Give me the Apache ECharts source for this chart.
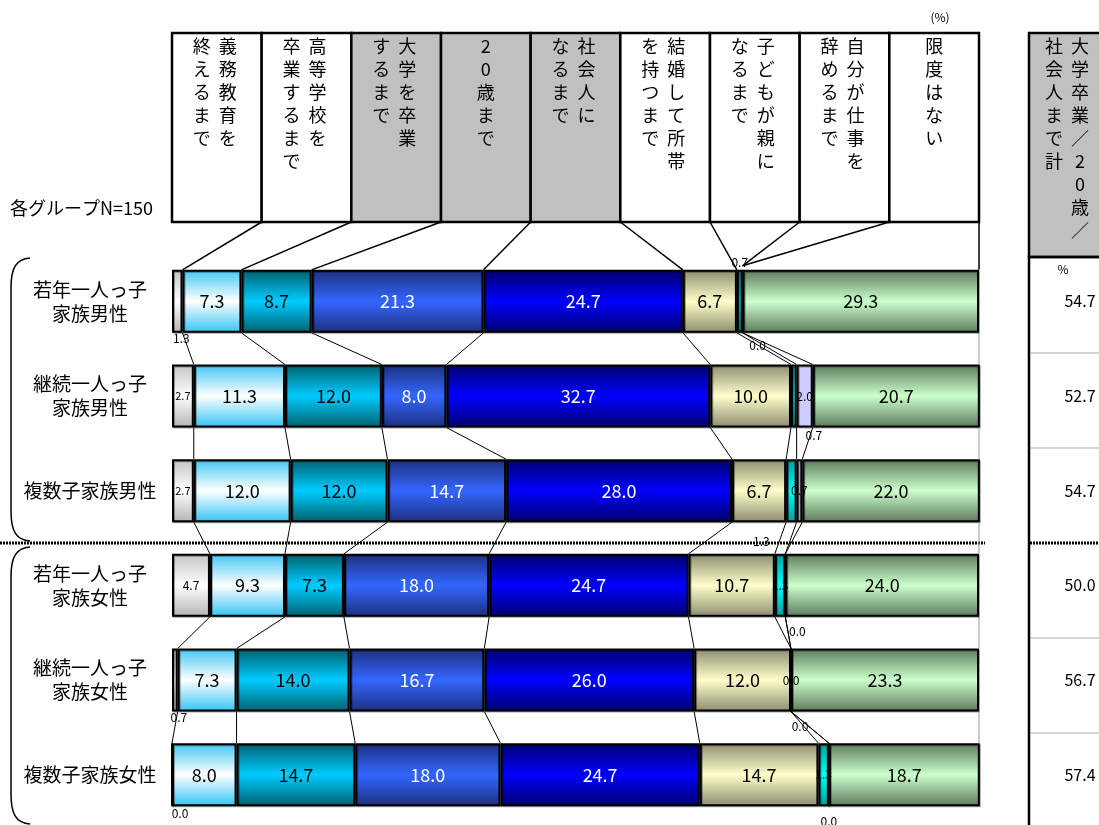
<!DOCTYPE html>
<html><head><meta charset="utf-8">
<script src="https://cdn.jsdelivr.net/npm/echarts@6/dist/echarts.min.js"></script>
<style>html,body{margin:0;padding:0;background:#fff}#c{width:1099px;height:825px}</style>
</head><body><div id="c"></div>
<script>
// ---- data ----
const groups = ['若年一人っ子\n家族男性','継続一人っ子\n家族男性','複数子家族男性','若年一人っ子\n家族女性','継続一人っ子\n家族女性','複数子家族女性'];
const categories = ['義務教育を終えるまで','高等学校を卒業するまで','大学を卒業するまで','20歳まで','社会人になるまで','結婚して所帯を持つまで','子どもが親になるまで','自分が仕事を辞めるまで','限度はない'];
// header text columns (right column first, as written vertically)
const headerCols = [['義務教育を','終えるまで'],['高等学校を','卒業するまで'],['大学を卒業','するまで'],['20歳まで'],['社会人に','なるまで'],['結婚して所帯','を持つまで'],['子どもが親に','なるまで'],['自分が仕事を','辞めるまで'],['限度はない']];
const subtotalHeader = ['大学卒業／20歳／','社会人まで計'];
const s1_gimu     = [1.3, 2.7, 2.7, 4.7, 0.7, 0.0];
const s2_koko     = [7.3, 11.3, 12.0, 9.3, 7.3, 8.0];
const s3_daigaku  = [8.7, 12.0, 12.0, 7.3, 14.0, 14.7];
const s4_hatachi  = [21.3, 8.0, 14.7, 18.0, 16.7, 18.0];
const s5_shakai   = [24.7, 32.7, 28.0, 24.7, 26.0, 24.7];
const s6_kekkon   = [6.7, 10.0, 6.7, 10.7, 12.0, 14.7];
const s7_oya      = [0.7, 0.7, 1.3, 1.3, 0.0, 1.3];
const s8_shigoto  = [0.0, 2.0, 0.7, 0.0, 0.0, 0.0];
const s9_gendo    = [29.3, 20.7, 22.0, 24.0, 23.3, 18.7];
const subtotal    = [54.7, 52.7, 54.7, 50.0, 56.7, 57.4];
const nNote = '各グループN=150';

// ---- styles ----
const allSeries = [s1_gimu,s2_koko,s3_daigaku,s4_hatachi,s5_shakai,s6_kekkon,s7_oya,s8_shigoto,s9_gendo];
const FONT = '"Noto Sans CJK JP", "Noto Sans", sans-serif';
function vg(a,b,c){return new echarts.graphic.LinearGradient(0,0,0,1,[{offset:0,color:a},{offset:0.5,color:b},{offset:1,color:c}]);}
const fills = [
  vg('#c4c4c4','#ffffff','#b4b4b4'),
  vg('#40c8f4','#ffffff','#33c4f4'),
  vg('#00606e','#00ccff','#00606e'),
  vg('#1e2f7e','#3366ff','#1e2f7e'),
  vg('#00006c','#0000ff','#00006c'),
  vg('#8c8c70','#ffffcc','#8c8c70'),
  vg('#009a9a','#00ffff','#009a9a'),
  '#ccccff',
  vg('#5c7a5c','#ccffcc','#5c7a5c')
];
const labelColors = ['#000','#000','#000','#fff','#fff','#000','#000','#000','#000'];
const labelTweak = {
  '0-0':{position:'bottom',distance:0,offset:[4,0],fontSize:12},
  '0-1':{fontSize:11},'0-2':{fontSize:11},'0-3':{fontSize:12},
  '0-4':{position:'bottom',distance:0,offset:[4,0],fontSize:12},
  '0-5':{position:'bottom',distance:0,offset:[8,0],fontSize:12},
  '6-0':{position:'top',distance:1,offset:[0,0],fontSize:12},
  '6-1':{position:'bottom',distance:2,offset:[20,0],fontSize:12},
  '6-2':{position:'bottom',distance:13,offset:[-30,0],fontSize:12},
  '6-3':{fontSize:12},'6-4':{fontSize:12},'6-5':{fontSize:12},
  '7-0':{position:'bottom',distance:6,offset:[15,0],fontSize:12},
  '7-1':{fontSize:12},'7-2':{fontSize:12},
  '7-3':{position:'bottom',distance:8,offset:[12,0],fontSize:12},
  '7-4':{position:'bottom',distance:8,offset:[9,0],fontSize:12},
  '7-5':{position:'bottom',distance:8,offset:[0,0],fontSize:12}
};
const BAR_H = 63;
const GRID = {left:172, right:120, top:254, height:568};
const HEAD_TOP = 33, HEAD_BOT = 222;

function cum(row,k){let s=0;for(let j=0;j<=k;j++)s+=allSeries[j][row];return Math.min(s,100);}

const barSeries = allSeries.map((arr,si)=>({
  type:'bar', name:categories[si], stack:'t', barWidth:BAR_H, clip:false,
  itemStyle:{color:fills[si], borderColor:'#000', borderWidth:2, shadowColor:'rgba(0,0,0,0.35)', shadowBlur:0, shadowOffsetX:1, shadowOffsetY:1},
  label:{show:true, position:'inside', fontFamily:FONT, fontSize:18, color:labelColors[si],
    formatter:p=>p.value.toFixed(1)},
  data:arr.map((v,ri)=>{const t=labelTweak[si+'-'+ri]; return t?{value:v,label:t}:v;})
}));

// connector lines between adjacent bars + header leader lines
const connData = [];
for(let k=0;k<9;k++){ connData.push([0,0,k,1]); }
for(let r=0;r<5;r++) for(let k=0;k<9;k++) connData.push([0,r,k,0]);
const connSeries = {
  type:'custom', coordinateSystem:'cartesian2d', silent:true, z:5,
  encode:{x:0,y:1}, data:connData,
  renderItem:(params,api)=>{
    const r=api.value(1), k=api.value(2), hdr=api.value(3);
    const h=BAR_H/2;
    if(hdr){
      const L=api.coord([0,0])[0], R=api.coord([100,0])[0];
      const x0=L+(k+1)*(R-L)/9;
      const p=api.coord([cum(0,k),0]);
      return {type:'line',shape:{x1:x0,y1:HEAD_BOT,x2:p[0],y2:p[1]-h-(k===6||k===7?4:0)},style:{stroke:'#000',lineWidth:1.5}};
    }
    const a=api.coord([cum(r,k),r]), b=api.coord([cum(r+1,k),r+1]);
    return {type:'line',shape:{x1:a[0],y1:a[1]+h,x2:b[0],y2:b[1]-h},style:{stroke:k===8?'#999':'#000',lineWidth:1}};
  }
};

// header graphics
const gridL=GRID.left, gridR=1099-GRID.right, bw=(gridR-gridL)/9;
const graphics=[];
headerCols.forEach((cols,i)=>{
  const x=gridL+i*bw, cx=x+bw/2;
  const gray=(i>=2&&i<=4);
  graphics.push({type:'rect',shape:{x:x,y:HEAD_TOP,width:bw,height:HEAD_BOT-HEAD_TOP},style:{fill:gray?'#c0c0c0':'#fff',stroke:'#000',lineWidth:2.5},z:1});
  const xs = cols.length===1?[cx]:[cx+11,cx-15];
  cols.forEach((t,j)=>{
    graphics.push({type:'text',x:xs[j],y:35,z:2,style:{text:t.split('').join('\n'),font:'18px '+FONT,fill:'#000',align:'center',verticalAlign:'top',lineHeight:23}});
  });
});
// subtotal column
graphics.push({type:'rect',shape:{x:1029,y:HEAD_TOP,width:90,height:257-HEAD_TOP},style:{fill:'#c0c0c0',stroke:'#000',lineWidth:2.5},z:1});
graphics.push({type:'rect',shape:{x:1029,y:257,width:90,height:600},style:{fill:'none',stroke:'#000',lineWidth:2.5},z:1});
[1080,1054].forEach((x,j)=>{
  graphics.push({type:'text',x:x,y:35,z:2,style:{text:subtotalHeader[j].split('').join('\n'),font:'18px '+FONT,fill:'#000',align:'center',verticalAlign:'top',lineHeight:23}});
});
graphics.push({type:'text',x:1063,y:263,z:2,style:{text:'%',font:'12px '+FONT,fill:'#000',align:'center'}});
[353,448,638,733].forEach(y=>graphics.push({type:'line',shape:{x1:1030,y1:y,x2:1099,y2:y},style:{stroke:'#aaa',lineWidth:1},z:2}));
graphics.push({type:'line',shape:{x1:1030,y1:543,x2:1099,y2:543},style:{stroke:'#000',lineWidth:3,lineDash:[2,1]},z:2});
// dotted separator
graphics.push({type:'line',shape:{x1:0,y1:543,x2:985,y2:543},style:{stroke:'#000',lineWidth:3,lineDash:[2,1]},z:2});
// brackets
function bracket(y0,y1){
  const st={fill:'none',stroke:'#000',lineWidth:1.5};
  graphics.push({type:'bezierCurve',shape:{x1:30,y1:y0,cpx1:16,cpy1:y0+1,cpx2:11,cpy2:y0+10,x2:11,y2:y0+30},style:st,z:2});
  graphics.push({type:'line',shape:{x1:11,y1:y0+30,x2:11,y2:y1-30},style:st,z:2});
  graphics.push({type:'bezierCurve',shape:{x1:11,y1:y1-30,cpx1:11,cpy1:y1-10,cpx2:16,cpy2:y1-1,x2:30,y2:y1},style:st,z:2});
}
bracket(258,541);
bracket(547,824);
graphics.push({type:'text',x:10,y:199,z:2,style:{text:nNote,font:'18px '+FONT,fill:'#000'}});
graphics.push({type:'text',x:940,y:11,z:2,style:{text:'(%)',font:'12px '+FONT,fill:'#000',align:'center'}});

const chart = echarts.init(document.getElementById('c'));
chart.setOption({
  animation:false,
  textStyle:{fontFamily:FONT},
  grid:{left:GRID.left,right:GRID.right,top:GRID.top,height:GRID.height,containLabel:false},
  xAxis:{type:'value',min:0,max:100,show:false},
  yAxis:[
    {type:'category',inverse:true,data:groups,axisLine:{show:false},axisTick:{show:false},
     axisLabel:{fontSize:19,color:'#000',lineHeight:24,align:'center',margin:82,fontFamily:FONT}},
    {type:'category',inverse:true,position:'right',data:subtotal.map(v=>v.toFixed(1)),axisLine:{show:false},axisTick:{show:false},
     axisLabel:{fontSize:16,color:'#000',align:'center',margin:101,fontFamily:FONT}}
  ],
  series:[...barSeries, connSeries],
  graphic:graphics
});
</script></body></html>
